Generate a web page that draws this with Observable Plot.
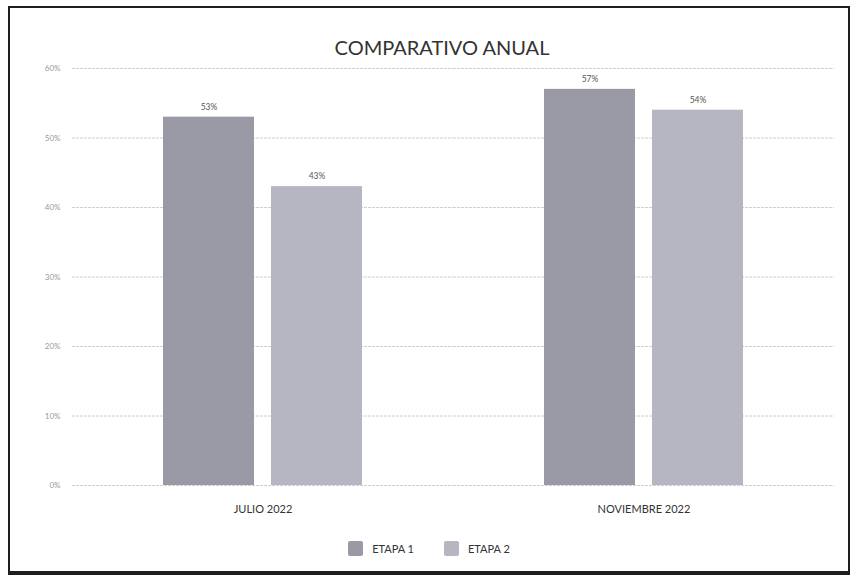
<!DOCTYPE html>
<html>
<head>
<meta charset="utf-8">
<script src="https://cdn.jsdelivr.net/npm/d3@7"></script>
<script src="https://cdn.jsdelivr.net/npm/@observablehq/plot@0.6"></script>
<style>
  html, body { margin: 0; padding: 0; background: #fff; }
  body { width: 856px; height: 587px; position: relative; overflow: hidden; font-family: Lato, "Open Sans", sans-serif; }
  #frame { position: absolute; left: 8px; top: 6px; width: 838px; height: 563px; border: 2px solid #1e1e1e; border-bottom-width: 4px; background: #fff; }
  #title { position: absolute; left: 26px; right: 0; top: 27px; text-align: center; font-size: 20px; color: #333; }
  #chart { position: absolute; left: 0; top: 32px; }
  #legend { position: absolute; left: 0; width: 100%; top: 533px; display: flex; justify-content: center; gap: 30px; font-size: 11px; color: #333; }
  .sw { display: inline-flex; align-items: center; gap: 9px; }
  .sq { width: 15px; height: 15px; display: inline-block; border-radius: 2px; }
</style>
</head>
<body>
<div id="frame">
  <div id="title">COMPARATIVO ANUAL</div>
  <div id="chart"></div>
  <div id="legend"></div>
</div>
<script>
const periods = ["JULIO 2022", "NOVIEMBRE 2022"];
const stages = ["ETAPA 1", "ETAPA 2"];
const etapa1 = [0.53, 0.57];
const etapa2 = [0.43, 0.54];
const stageColors = ["#9a9aa6", "#b6b6c2"];
const yTicks = [0, 0.1, 0.2, 0.3, 0.4, 0.5, 0.6];

const data = [];
periods.forEach((p, i) => {
  data.push({period: p, stage: stages[0], value: etapa1[i]});
  data.push({period: p, stage: stages[1], value: etapa2[i]});
});

const chart = Plot.plot({
  width: 838,
  height: 500,
  marginTop: 28,
  marginBottom: 55,
  marginLeft: 61,
  marginRight: 14,
  style: {fontFamily: "Lato, 'Open Sans', sans-serif", fontSize: "11px", color: "#333", background: "transparent"},
  fx: {domain: periods, padding: 0, label: null, axis: "bottom", tickSize: 0, tickPadding: 20},
  x: {domain: stages, axis: null, paddingInner: 0.16, paddingOuter: 0.84},
  y: {domain: [0, 0.6], ticks: yTicks, tickFormat: d3.format(".0%"), label: null, tickSize: 0, tickPadding: 12},
  color: {domain: stages, range: stageColors},
  marks: [
    Plot.gridY(yTicks, {stroke: "#c4c4c4", strokeOpacity: 1, strokeWidth: 0.8, strokeDasharray: "3,1"}),
    Plot.axisY(yTicks, {tickFormat: d3.format(".0%"), tickSize: 0, tickPadding: 12, fontSize: 8, fill: "#999", label: null}),
    Plot.barY(data, {fx: "period", x: "stage", y: "value", fill: "stage"}),
    Plot.text(data, {fx: "period", x: "stage", y: "value", text: d => d3.format(".0%")(d.value), dy: -10, fontSize: 8.5, fill: "#555"})
  ]
});
document.getElementById("chart").appendChild(chart);

const legend = document.getElementById("legend");
stages.forEach((s, i) => {
  const item = document.createElement("span");
  item.className = "sw";
  const sq = document.createElement("span");
  sq.className = "sq";
  sq.style.background = stageColors[i];
  item.appendChild(sq);
  item.appendChild(document.createTextNode(s));
  legend.appendChild(item);
});
</script>
</body>
</html>
